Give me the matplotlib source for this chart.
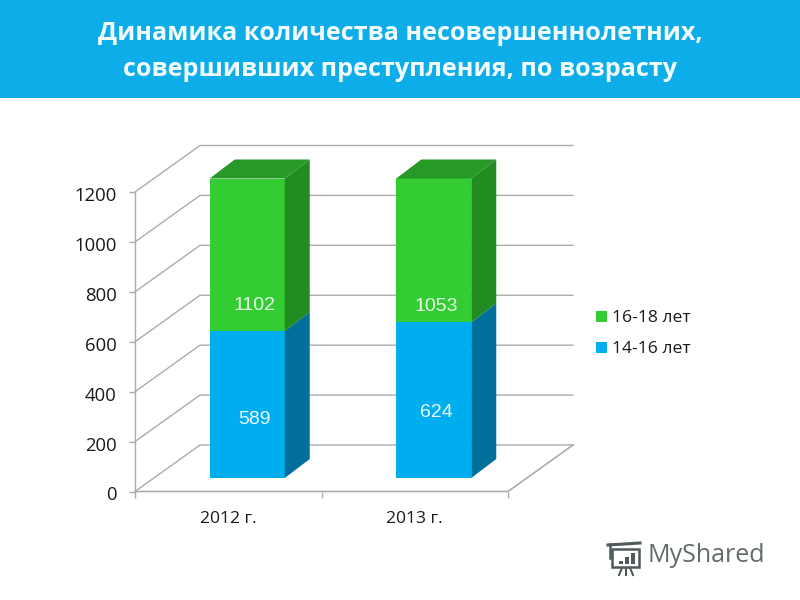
"""Pseudo-3D stacked bars: juvenile offenders by age group, 2012 and 2013."""

import matplotlib

matplotlib.use("Agg")
import matplotlib.pyplot as plt
from matplotlib.patches import Polygon, Rectangle
from matplotlib.transforms import ScaledTranslation

W, H = 800, 600

years = ["2012 г.", "2013 г."]
younger = [589, 624]  # 14-16 лет
older = [1102, 1053]  # 16-18 лет
y_ticks = [0, 200, 400, 600, 800, 1000, 1200]
series_names = ["16-18 лет", "14-16 лет"]
title_lines = [
    "Динамика количества несовершеннолетних,",
    "совершивших преступления, по возрасту",
]

BLUE = "#00AEEF"
BLUE_SIDE = "#006F9C"
GREEN = "#33CC33"
GREEN_SIDE = "#228B22"
GREEN_TOP = "#269926"
GRID = "#ABABAB"
BANNER = "#0DADE9"

LABEL_FONT = ["Open Sans", "DejaVu Sans"]
VALUE_FONT = ["Liberation Sans", "DejaVu Sans"]

# Front plane of the fake 3D box, in pixels of the picture.
LEFT, RIGHT, Y0, Y1200 = 135, 508, 491.5, 192

YMAX = y_ticks[-1]
PX_X = (RIGHT - LEFT) / len(years)  # pixels per category
PX_Y = (Y0 - Y1200) / YMAX  # pixels per value unit

# depth of the box and of the bars, in data units
WALL_DX, WALL_DY = 65 / PX_X, 46.5 / PX_Y
BAR_DX, BAR_DY = 25 / PX_X, 19 / PX_Y
# bars stand part way into the floor
BAR_SHIFT_X, BAR_SHIFT_Y = 19 / PX_X, 13.5 / PX_Y
BAR_WIDTH = 75 / PX_X

# nudges of the value labels from the middle of their segment, in pixels
LABEL_DX = [7, 3]
LOW_LABEL_DY = [15, 12]
HIGH_LABEL_DY = [51, 56]


def draw_box(ax):
    """Walls, floor and value gridlines behind the bars."""
    for tick in y_ticks:
        ax.plot(
            [0, WALL_DX, len(years) + WALL_DX],
            [tick, tick + WALL_DY, tick + WALL_DY],
            color=GRID, lw=1.0, clip_on=False, zorder=1,
        )
    ax.plot([0, 0], [0, YMAX], color=GRID, lw=1.0, clip_on=False, zorder=1)
    ax.plot(
        [0, len(years), len(years) + WALL_DX],
        [0, 0, WALL_DY],
        color=GRID, lw=1.2, clip_on=False, zorder=1,
    )


def draw_bars(ax):
    """Stack is cut off at the axis maximum, as in the source chart."""
    for i, (low, high) in enumerate(zip(younger, older)):
        x0 = i + 0.5 - BAR_WIDTH / 2 + BAR_SHIFT_X
        x1 = x0 + BAR_WIDTH
        y0 = BAR_SHIFT_Y
        y_mid = y0 + low
        y_top = min(y_mid + high, y0 + YMAX)

        side = [
            (y0, y_mid, BLUE, BLUE_SIDE),
            (y_mid, y_top, GREEN, GREEN_SIDE),
        ]
        for bottom, top, front_color, side_color in side:
            ax.add_patch(Rectangle((x0, bottom), BAR_WIDTH, top - bottom, color=front_color,
                                   lw=0, clip_on=False, zorder=3))
            ax.add_patch(Polygon(
                [(x1, bottom), (x1 + BAR_DX, bottom + BAR_DY),
                 (x1 + BAR_DX, top + BAR_DY), (x1, top)],
                color=side_color, lw=0, clip_on=False, zorder=3,
            ))
        ax.add_patch(Polygon(
            [(x0, y_top), (x0 + BAR_DX, y_top + BAR_DY),
             (x1 + BAR_DX, y_top + BAR_DY), (x1, y_top)],
            color=GREEN_TOP, lw=0, clip_on=False, zorder=3,
        ))

        xc = (x0 + x1) / 2 + LABEL_DX[i] / PX_X
        ax.text(xc, (y0 + y_mid) / 2 - LOW_LABEL_DY[i] / PX_Y, str(low), color="#EAF8FF",
                fontsize=14, family=VALUE_FONT, ha="center", va="center", zorder=4)
        ax.text(xc, (y_mid + y_top) / 2 - HIGH_LABEL_DY[i] / PX_Y, str(high), color="#E8FBE8",
                fontsize=14, family=VALUE_FONT, ha="center", va="center", zorder=4)


def draw_logo(over):
    """MyShared watermark, bottom right."""
    c = "#4F5A5A"
    over.add_patch(Rectangle((612, 549), 27, 18, fill=False, ec=c, lw=1.8))
    over.plot([608, 640], [545, 543], color=c, lw=2.2)
    over.plot([610, 610], [544, 558], color=c, lw=1.8)
    for x, h in zip([619, 625, 631], [3, 7, 11]):
        over.add_patch(Rectangle((x, 564 - h), 3.5, h, color=c, lw=0))
    for x0, x1 in zip([622, 626, 630], [619, 626, 633]):
        over.plot([x0, x1], [568, 575], color=c, lw=1.5)
    over.text(648, 556, "MyShared", color="#626B6B", fontsize=18, family=LABEL_FONT,
              ha="left", va="center")


def main():
    fig = plt.figure(figsize=(W / 100, H / 100), dpi=100, facecolor="white")

    # pixel-coordinate overlay for banner, legend and watermark
    over = fig.add_axes([0, 0, 1, 1])
    over.set_xlim(0, W)
    over.set_ylim(H, 0)
    over.axis("off")
    over.add_patch(Rectangle((0, 0), W, 98, color=BANNER, lw=0))
    for line, y in zip(title_lines, [33, 70]):
        over.text(400, y, line, color="#F2FBFF", fontsize=18.1, fontweight="bold",
                  family=LABEL_FONT, ha="center", va="center")

    for name, color, y in zip(series_names, [GREEN, BLUE], [317, 348]):
        over.add_patch(Rectangle((596, y - 6.5), 11, 11, color=color, lw=0))
        over.text(612, y + 1, name, color="#1A1A1A", fontsize=12.6, family=LABEL_FONT,
                  ha="left", va="center")
    draw_logo(over)

    ax = fig.add_axes([LEFT / W, 1 - Y0 / H, (RIGHT - LEFT) / W, (Y0 - Y1200) / H])
    ax.patch.set_visible(False)
    ax.set_xlim(0, len(years))
    ax.set_ylim(0, YMAX)
    for spine in ax.spines.values():
        spine.set_visible(False)

    ax.set_yticks(y_ticks)
    ax.set_xticks(range(len(years) + 1), minor=False)
    ax.set_xticklabels([])
    ax.set_xticks([i + 0.5 for i in range(len(years))], labels=years, minor=True)
    ax.tick_params(axis="x", which="major", length=4, color=GRID, width=1.0)
    ax.tick_params(axis="x", which="minor", length=0, pad=14, labelsize=12.6, labelcolor="#1A1A1A")
    ax.tick_params(axis="y", length=4, color=GRID, width=1.0, pad=9, labelsize=13.3,
                   labelcolor="#1A1A1A")
    for label in ax.get_xticklabels(minor=True) + ax.get_yticklabels():
        label.set_family(LABEL_FONT)
    # y labels sit about 2 px under their ticks
    down = ScaledTranslation(0, -2 / 100, fig.dpi_scale_trans)
    for label in ax.get_yticklabels():
        label.set_transform(label.get_transform() + down)

    draw_box(ax)
    draw_bars(ax)

    fig.savefig("out.png", dpi=100)
    plt.close(fig)


if __name__ == "__main__":
    main()
